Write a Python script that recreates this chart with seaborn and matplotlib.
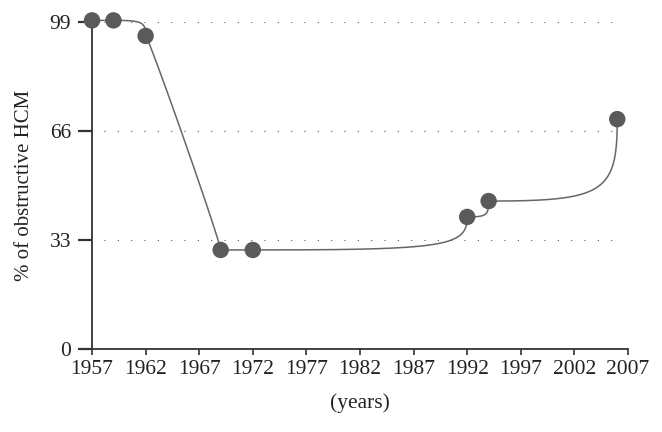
import numpy as np
import pandas as pd
import matplotlib
matplotlib.use('Agg')
import matplotlib.pyplot as plt
import seaborn as sns

# Données
years = [1957, 1959, 1962, 1969, 1972, 1992, 1994, 2006]
pct_obstructive = [99.5, 99.5, 94.8, 30.0, 30.0, 40.0, 44.8, 69.6]
xtick_years = list(range(1957, 2008, 5))
ytick_values = [0, 33, 66, 99]

df = pd.DataFrame({'year': years, 'pct': pct_obstructive})

sns.set_theme(style='white')
plt.rcParams['font.family'] = ['Liberation Serif', 'DejaVu Serif']

fig = plt.figure(figsize=(6.62, 4.32), dpi=100)
ax = fig.add_axes([0.139, 0.192, 0.8096, 0.757])
ax.set_xlim(1957, 2007)
ax.set_ylim(0, 99)

# Courbe de liaison : départ horizontal, arrivée verticale (coordonnées écran)
ax_w = 0.8096 * 662
ax_h = 0.757 * 432
sx = ax_w / (2007 - 1957)
sy = ax_h / 99


def elbow_curve(px, py, n=80, k=0.9):
    pts = np.column_stack([px, py])
    out = []
    t = np.linspace(0, 1, n)[:, None]
    for i in range(len(pts) - 1):
        p0, p3 = pts[i], pts[i + 1]
        dx, dy = p3 - p0
        r = 1.0 if dy == 0 else min(1.0, dx / abs(dy))
        h = k * r ** 3
        c1 = np.array([p0[0] + dx * h, p0[1]])
        c2 = np.array([p3[0], p3[1] - dy * h])
        seg = ((1 - t) ** 3) * p0 + 3 * ((1 - t) ** 2) * t * c1 \
            + 3 * (1 - t) * t ** 2 * c2 + t ** 3 * p3
        out.append(seg if i == 0 else seg[1:])
    return np.vstack(out)


curve = elbow_curve((df['year'] - 1957) * sx, df['pct'] * sy)
smooth = pd.DataFrame({'year': curve[:, 0] / sx + 1957, 'pct': curve[:, 1] / sy})

# Lignes pointillées horizontales
ax.hlines(ytick_values[1:], 1958.1, 2006.1, colors='#555555',
          linestyles=(0, (1, 11)), linewidth=0.8, zorder=1)

sns.lineplot(data=smooth, x='year', y='pct', sort=False, estimator=None,
             color='#666666', linewidth=1.1, ax=ax, zorder=2, clip_on=False)
sns.scatterplot(data=df, x='year', y='pct', s=140, color='#5a5a5a',
                edgecolor='none', ax=ax, zorder=3, clip_on=False)

# Axes
for side in ['top', 'right']:
    ax.spines[side].set_visible(False)
for side in ['left', 'bottom']:
    ax.spines[side].set_color('#333333')
    ax.spines[side].set_linewidth(1.3)

ax.set_xticks(xtick_years)
ax.set_yticks(ytick_values)
ax.tick_params(axis='x', direction='out', length=4, width=1.2, color='#333333',
               labelsize=15.5, pad=4, bottom=True)
ax.tick_params(axis='y', direction='out', length=10, width=1.6, color='#333333',
               labelsize=15.5, pad=5, left=True)
ax.grid(False)

ax.set_xlabel('(years)', fontsize=15.5, labelpad=10, color='#222222')
ax.set_ylabel('% of obstructive HCM', fontsize=15, labelpad=11, color='#222222')
for lbl in ax.get_xticklabels() + ax.get_yticklabels():
    lbl.set_color('#222222')

fig.savefig('out.png', dpi=100)
